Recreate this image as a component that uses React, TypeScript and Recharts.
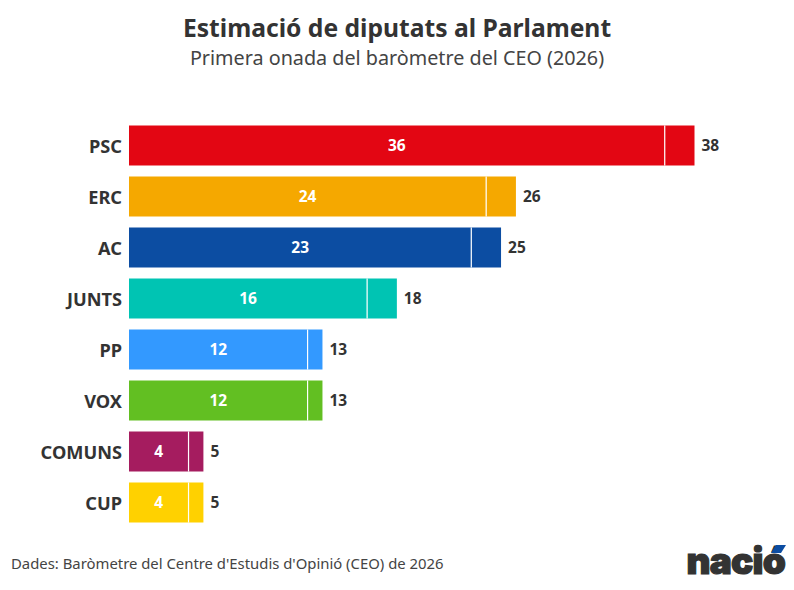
import { BarChart, Bar, Cell, XAxis, YAxis, LabelList } from "recharts";

const parties = ["PSC", "ERC", "AC", "JUNTS", "PP", "VOX", "COMUNS", "CUP"];
const minSeats = [36, 24, 23, 16, 12, 12, 4, 4];
const maxSeats = [38, 26, 25, 18, 13, 13, 5, 5];
const colors = ["#e30613", "#f5a800", "#0c4da2", "#00c4b3", "#3399ff", "#62bf22", "#a51c5f", "#ffd100"];

const data = parties.map((party, i) => ({
  party,
  low: minSeats[i],
  extra: maxSeats[i] - minSeats[i],
  max: maxSeats[i],
}));

const FONT = "'Noto Sans', sans-serif";

// Upper part of the range: same colour, with a white tick where the minimum ends.
function RangeBar(props: any) {
  const { x, y, width, height, fill } = props;
  return (
    <g>
      <rect x={x} y={y} width={width} height={height} fill={fill} />
      <line x1={x} x2={x} y1={y} y2={y + height} stroke="#fff" strokeWidth={1.2} />
    </g>
  );
}

function PartyTick({ x, y, payload }: any) {
  return (
    <text x={x + 1} y={y} dy={7} textAnchor="end" fontSize={18.2} fontWeight={700} fill="#333" fontFamily={FONT}>
      {payload.value}
    </text>
  );
}

function MaxLabel({ x, y, width, height, value }: any) {
  return (
    <text x={x + width + 7} y={y + height / 2 + 5.5} fontSize={15.5} fontWeight={700} fill="#333" fontFamily={FONT}>
      {value}
    </text>
  );
}

export default function App() {
  return (
    <div style={{ position: "absolute", left: 0, top: 0, width: 794, height: 590, background: "#fff", fontFamily: FONT, overflow: "hidden" }}>
      <div style={{ position: "absolute", left: 0, width: 794, top: 11, textAlign: "center", fontSize: 24.65, fontWeight: 700, color: "#333", lineHeight: "34px" }}>
        Estimació de diputats al Parlament
      </div>
      <div style={{ position: "absolute", left: 0, width: 794, top: 44, textAlign: "center", fontSize: 19.75, color: "#444", lineHeight: "28px" }}>
        Primera onada del baròmetre del CEO (2026)
      </div>

      <div style={{ position: "absolute", left: 0, top: 0 }}>
        <BarChart
          width={794}
          height={590}
          layout="vertical"
          data={data}
          margin={{ top: 120, right: 99.5, bottom: 62, left: 0 }}
          barCategoryGap={5.5}
        >
          <XAxis type="number" hide domain={[0, 38]} />
          <YAxis
            type="category"
            dataKey="party"
            width={129}
            axisLine={false}
            tickLine={false}
            tick={<PartyTick />}
            interval={0}
          />
          <Bar dataKey="low" stackId="seats" isAnimationActive={false}>
            {data.map((d, i) => (
              <Cell key={d.party} fill={colors[i]} />
            ))}
            <LabelList dataKey="low" position="center" fill="#fff" fontSize={15.5} fontWeight={700} fontFamily={FONT} />
          </Bar>
          <Bar dataKey="extra" stackId="seats" isAnimationActive={false} shape={<RangeBar />}>
            {data.map((d, i) => (
              <Cell key={d.party} fill={colors[i]} />
            ))}
            <LabelList dataKey="max" content={<MaxLabel />} />
          </Bar>
        </BarChart>
      </div>

      <div style={{ position: "absolute", left: 11, top: 553, fontSize: 14.87, color: "#444", lineHeight: "20px", whiteSpace: "nowrap" }}>
        Dades: Baròmetre del Centre d'Estudis d'Opinió (CEO) de 2026
      </div>

      <div style={{ position: "absolute", left: 660, top: 538, width: 125, height: 46, textAlign: "right", fontFamily: "Inter, sans-serif", fontSize: 37, fontWeight: 900, color: "#333", lineHeight: "46px", letterSpacing: -0.8, WebkitTextStroke: "1.2px #333" }}>
        nació
      </div>
      <svg style={{ position: "absolute", left: 768, top: 542 }} width={20} height={14}>
        <polygon points="3,11 8,3 18,3 13,11" fill="#0c4da2" />
      </svg>
    </div>
  );
}
